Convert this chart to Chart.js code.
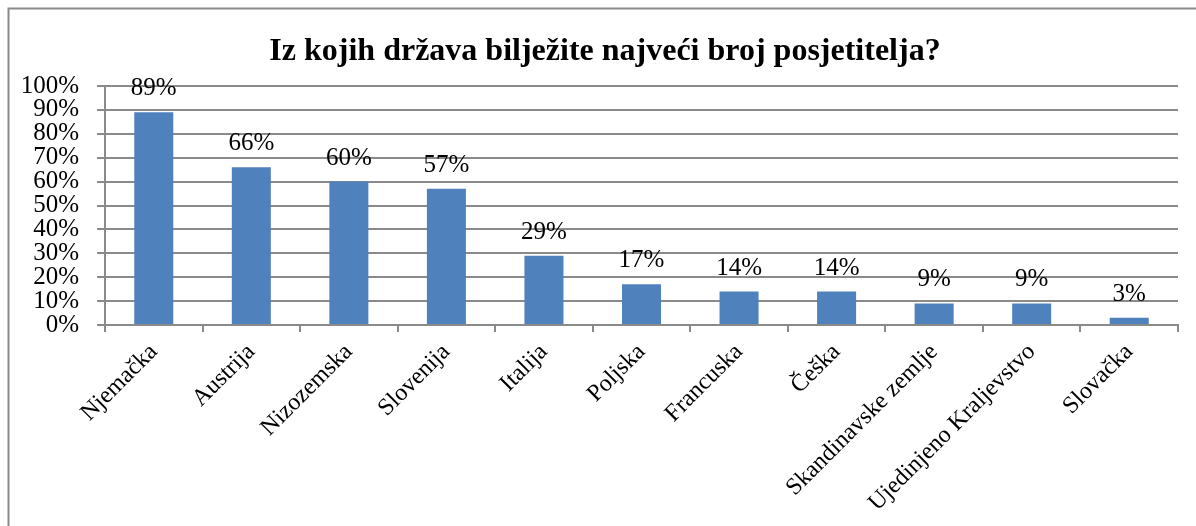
<!DOCTYPE html>
<html>
<head>
<meta charset="utf-8">
<script src="https://cdn.jsdelivr.net/npm/chart.js@4/dist/chart.umd.min.js"></script>
<style>
html,body{margin:0;padding:0;background:#fff;}
#wrap{width:1196px;height:526px;position:relative;}
</style>
</head>
<body>
<div id="wrap"><canvas id="c" width="1196" height="526"></canvas></div>
<script>
const categories = ["Njemačka","Austrija","Nizozemska","Slovenija","Italija","Poljska","Francuska","Češka","Skandinavske zemlje","Ujedinjeno Kraljevstvo","Slovačka"];
const values = [89,66,60,57,29,17,14,14,9,9,3];
const yMin = 0, yMax = 100, yStep = 10;
const titleText = "Iz kojih država bilježite najveći broj posjetitelja?";

const SERIF = "'Liberation Serif','Times New Roman',serif";
const GRID = '#8a8a8a';

const framePlugin = {
  id: 'frame',
  beforeDraw(chart) {
    const ctx = chart.ctx;
    ctx.save();
    ctx.fillStyle = '#fff';
    ctx.fillRect(0, 0, chart.width, chart.height);
    ctx.strokeStyle = GRID;
    ctx.lineWidth = 2;
    ctx.beginPath();
    ctx.moveTo(8.5, chart.height + 2);
    ctx.lineTo(8.5, 8.5);
    ctx.lineTo(chart.width + 2, 8.5);
    ctx.stroke();
    ctx.fillStyle = '#000';
    ctx.font = "bold 32px " + SERIF;
    ctx.textAlign = 'center';
    ctx.textBaseline = 'alphabetic';
    ctx.fillText(titleText, 605, 60);
    ctx.restore();
  }
};

const labelPlugin = {
  id: 'valueLabels',
  afterDatasetsDraw(chart) {
    const ctx = chart.ctx;
    const meta = chart.getDatasetMeta(0);
    ctx.save();
    ctx.fillStyle = '#000';
    ctx.font = "25px " + SERIF;
    ctx.textAlign = 'center';
    ctx.textBaseline = 'alphabetic';
    meta.data.forEach((bar, i) => {
      ctx.fillText(values[i] + '%', bar.x, bar.y - 17);
    });
    ctx.restore();
  }
};

new Chart(document.getElementById('c'), {
  type: 'bar',
  data: {
    labels: categories,
    datasets: [{
      data: values,
      backgroundColor: '#4F81BD',
      borderWidth: 0,
      barPercentage: 0.4,
      categoryPercentage: 1.0
    }]
  },
  options: {
    responsive: false,
    animation: false,
    devicePixelRatio: 1,
    layout: { padding: { top: 86, right: 18, left: 0, bottom: 0 } },
    plugins: {
      legend: { display: false },
      title: { display: false },
      tooltip: { enabled: false }
    },
    scales: {
      y: {
        min: yMin, max: yMax,
        ticks: {
          stepSize: yStep,
          autoSkip: false,
          callback: v => v + '%',
          font: { family: SERIF, size: 25, lineHeight: 1 },
          color: '#000',
          padding: 18
        },
        grid: { color: GRID, lineWidth: 2, tickLength: 8 },
        border: { display: true, color: GRID, width: 2 },
        afterFit(scale) { scale.width = 105; }
      },
      x: {
        offset: true,
        ticks: {
          minRotation: 45, maxRotation: 45,
          font: { family: SERIF, size: 24 },
          color: '#000',
          padding: 6,
          autoSkip: false
        },
        grid: { offset: true, drawOnChartArea: false, color: GRID, lineWidth: 2, tickLength: 7 },
        border: { display: true, color: GRID, width: 2 },
        afterFit(scale) { scale.height = 526 - 325; }
      }
    }
  },
  plugins: [framePlugin, labelPlugin]
});
</script>
</body>
</html>
